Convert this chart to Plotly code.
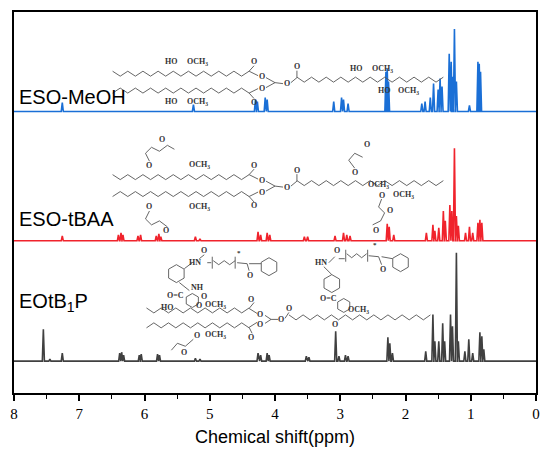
import math
import plotly.graph_objects as go

# ---- data (ppm, peak height in px above each baseline) ----
meoh_ppm = [7.26, 5.25, 4.30, 4.27, 4.15, 4.12, 3.10, 2.98, 2.95, 2.88,
            2.30, 2.28, 2.26, 1.75, 1.70, 1.62, 1.57, 1.50, 1.47, 1.44,
            1.33, 1.30, 1.28, 1.25, 1.22, 1.02, 0.89, 0.87, 0.85]
meoh_h = [9, 7, 12, 10, 14, 12, 10, 14, 12, 8,
          40, 43, 30, 8, 10, 14, 28, 22, 33, 25,
          58, 50, 35, 83, 30, 6, 50, 48, 40]

tbaa_ppm = [7.26, 6.40, 6.36, 6.33, 6.10, 6.06, 5.82, 5.78, 5.75, 5.22, 5.15,
            4.26, 4.22, 4.12, 4.08, 3.55, 3.50, 3.08, 2.95, 2.90, 2.85,
            2.28, 2.25, 2.18, 1.68, 1.58, 1.55, 1.49, 1.42, 1.39,
            1.32, 1.29, 1.25, 1.22, 1.19, 1.08, 1.02, 0.97, 0.89, 0.86, 0.83]
tbaa_h = [5, 6, 8, 6, 5, 6, 5, 7, 4, 4, 2,
          9, 6, 8, 6, 4, 4, 5, 8, 6, 5,
          17, 14, 6, 8, 16, 10, 13, 30, 20,
          36, 30, 93, 25, 15, 8, 14, 8, 18, 21, 18]

eotb_ppm = [7.55, 7.45, 7.26, 6.38, 6.35, 6.32, 6.08, 6.05, 5.80, 5.77, 5.22, 5.15,
            4.26, 4.22, 4.12, 4.09, 3.52, 3.48, 3.07, 3.02, 2.92, 2.88,
            2.27, 2.24, 2.20, 1.69, 1.58, 1.55, 1.49, 1.43, 1.40,
            1.31, 1.28, 1.22, 1.19, 1.09, 1.03, 0.97, 0.86, 0.83, 0.80]
eotb_h = [32, 2, 8, 8, 9, 6, 6, 7, 7, 6, 3, 2,
          8, 6, 8, 6, 5, 4, 30, 5, 6, 5,
          24, 18, 8, 10, 47, 20, 20, 38, 20,
          47, 35, 109, 20, 10, 22, 8, 29, 25, 12]

names = ["ESO-MeOH", "ESO-tBAA", "EOtB<sub>1</sub>P"]
colors = ["#1a6fd6", "#f0232c", "#404040"]
offsets = [283, 153, 32]          # baseline height of each stacked spectrum
label_y = [298, 175, 91]
HALF = 0.016                      # half width of a drawn line (ppm)

# plot-area geometry in page pixels (used only for the structure sketches)
L, R, T, B = 14, 538, 10, 393


def stick_trace(ppm, h, off):
    xs, ys = [8.0], [off]
    for p, v in sorted(zip(ppm, h), key=lambda t: -t[0]):
        xs += [p + HALF, p, p - HALF]
        ys += [off, off + v, off]
    xs.append(0.0)
    ys.append(off)
    return xs, ys


fig = go.Figure()
for ppm, h, off, col in zip([meoh_ppm, tbaa_ppm, eotb_ppm],
                            [meoh_h, tbaa_h, eotb_h], offsets, colors):
    xs, ys = stick_trace(ppm, h, off)
    fig.add_trace(go.Scatter(x=xs, y=ys, mode="lines",
                             line=dict(color=col, width=1.6),
                             hoverinfo="skip", showlegend=False))

for name, ly in zip(names, label_y):
    fig.add_annotation(x=7.95, y=ly, xref="x", yref="y", text=name,
                       showarrow=False, xanchor="left", yanchor="middle",
                       font=dict(family="Liberation Sans, Arial", size=20,
                                 color="#000"))

# ---------------- schematic chemical structures (decoration) ----------------
paths = []
texts = []


def P(x, y):
    return (x - L) / (R - L), (B - y) / (B - T)


def poly(pts, close=False):
    s = ""
    for i, (x, y) in enumerate(pts):
        px, py = P(x, y)
        s += ("M" if i == 0 else "L") + f"{px:.4f},{py:.4f}"
    if close:
        s += "Z"
    paths.append(s)


def zig(x0, x1, y, n, amp=2.5, up=True):
    pts = []
    for i in range(n + 1):
        sgn = -1 if (i % 2 == 0) == up else 1
        pts.append((x0 + (x1 - x0) * i / n, y + sgn * amp))
    poly(pts)


def ring(cx, cy, r=8):
    poly([(cx + r * math.cos(math.radians(30 + 60 * k)),
           cy + r * math.sin(math.radians(30 + 60 * k))) for k in range(6)],
         close=True)


def t(x, y, s, size=8):
    texts.append((x, y, s, size))


def triglyceride(dy):
    # two side chains on the left, glycerol, one chain on the right
    yu, yl, ym = 72 + dy, 89 + dy, 78 + dy
    zig(113, 250, yu, 18)
    zig(113, 250, yl, 18, up=False)
    poly([(250, yu - 2.5), (255, yu - 8)]); t(255, yu - 12, "O")
    poly([(250, yl + 2.5), (255, yl + 8)]); t(255, yl + 12, "O")
    poly([(250, yu - 2.5), (259, yu + 2)]); t(263, yu + 3, "O")
    poly([(250, yl + 2.5), (259, yl - 2)]); t(263, yl - 2, "O")
    poly([(267, yu + 4), (276, ym + 3), (267, yl - 3)])
    poly([(276, ym + 3), (284, ym + 4)]); t(288, ym + 4, "O")
    poly([(292, ym + 3), (298, ym - 2)])
    poly([(298, ym - 2), (298, ym - 9)]); t(298, ym - 13, "O")
    zig(298, 445, ym, 20)


# structure 1 (ESO-MeOH)
triglyceride(0)
t(172, 60, "HO"); t(198, 60, "OCH<sub>3</sub>")
t(172, 100, "HO"); t(198, 100, "OCH<sub>3</sub>")
t(357, 67, "HO"); t(384, 67, "OCH<sub>3</sub>")
t(385, 89, "HO"); t(410, 89, "OCH<sub>3</sub>")

# structure 2 (ESO-tBAA)
triglyceride(104)
t(150, 164, "O"); t(200, 164, "OCH<sub>3</sub>")
poly([(150, 160), (146, 152), (152, 146), (160, 150)]); t(163, 138, "O")
poly([(160, 150), (168, 144), (175, 148)])
t(150, 206, "O"); t(200, 206, "OCH<sub>3</sub>")
poly([(150, 210), (146, 218), (152, 224), (160, 220)]); t(167, 230, "O")
poly([(160, 220), (168, 226)])
t(356, 171, "O"); t(380, 184, "OCH<sub>3</sub>")
poly([(356, 167), (350, 159), (356, 152), (364, 156)]); t(368, 143, "O")
t(383, 194, "O"); t(405, 194, "OCH<sub>3</sub>")
poly([(383, 198), (380, 206), (386, 212)]); t(391, 210, "O")
poly([(386, 212), (382, 220), (374, 224)]); t(377, 230, "O")

# structure 3 (EOtB1P)
yo = 316
zig(147, 250, yo - 6, 14)
zig(147, 250, yo + 9, 14, up=False)
poly([(250, yo - 8), (255, yo - 14)]); t(252, yo - 17, "O")
poly([(250, yo - 8), (258, yo - 3)]); t(261, yo - 2, "O")
poly([(250, yo + 11), (258, yo + 6)]); t(261, yo + 8, "O")
poly([(250, yo + 11), (253, yo + 17)]); t(252, yo + 21, "O")
poly([(266, yo - 1), (272, yo + 3), (266, yo + 7)])
poly([(272, yo + 3), (279, yo + 3)]); t(282, yo + 3, "O")
poly([(286, yo + 2), (290, yo - 4)]); t(290, yo - 8, "O")
zig(290, 432, yo + 1, 20)
t(200, yo - 11, "O"); t(216, yo - 11, "OCH<sub>3</sub>")
t(198, yo + 19, "O"); t(216, yo + 19, "OCH<sub>3</sub>")
poly([(194, yo + 23), (186, yo + 30), (178, yo + 27), (172, yo + 34)])
t(185, yo + 36, "O")
# polyurethane fragments
ring(177, 273, 9)
poly([(185, 268), (193, 262)]); t(196, 262, "HN")
poly([(200, 258), (205, 254)]); t(205, 250, "O")
poly([(208, 262), (212, 262)])
zig(214, 236, 262, 4, amp=2)
poly([(213, 256), (213, 268)]); poly([(236, 256), (236, 268)])
t(240, 252, "*", 7)
poly([(238, 262), (248, 263), (250, 270)]); t(251, 275, "O")
poly([(250, 263), (262, 263)])
ring(270, 266, 9)
poly([(180, 282), (190, 290)]); t(198, 287, "NH")
t(176, 295, "O=C"); ring(193, 300, 7)
t(168, 307, "HO"); t(205, 296, "O")
# right fragment
ring(333, 283, 9)
poly([(333, 274), (325, 266)]); t(322, 262, "HN")
poly([(330, 262), (336, 256)]); t(338, 250, "O")
poly([(340, 258), (346, 258)])
zig(348, 368, 255, 4, amp=2)
poly([(347, 249), (347, 261)]); poly([(369, 249), (369, 261)])
t(376, 244, "*", 7)
poly([(370, 255), (380, 256), (383, 264)]); t(384, 269, "O")
poly([(383, 256), (394, 258)])
ring(402, 262, 9)
t(330, 298, "O=C"); ring(345, 305, 7)
t(360, 310, "OCH<sub>3</sub>"); t(336, 324, "O")

fig.add_shape(type="path", xref="paper", yref="paper", path="".join(paths),
              line=dict(color="#555555", width=0.9), layer="above")
for x, y, s, size in texts:
    px, py = P(x, y)
    fig.add_annotation(x=px, y=py, xref="paper", yref="paper",
                       text="<b>" + s + "</b>",
                       showarrow=False, xanchor="center", yanchor="middle",
                       font=dict(family="Liberation Serif, Times New Roman",
                                 size=size, color="#333333"))

fig.update_layout(
    width=550, height=462,
    margin=dict(l=14, r=12, t=10, b=69),
    paper_bgcolor="white", plot_bgcolor="white",
    xaxis=dict(range=[8, 0], dtick=1, tick0=0, showline=True, mirror=True,
               linecolor="black", linewidth=1.5, ticks="outside",
               ticklen=6, tickwidth=1.5, tickcolor="black",
               minor=dict(dtick=0.5, ticks="outside", ticklen=4,
                          tickwidth=1.2, tickcolor="black"),
               showgrid=False, zeroline=False,
               tickfont=dict(family="Liberation Serif", size=15,
                             color="black"),
               title=dict(text="Chemical shift(ppm)", standoff=10,
                          font=dict(family="Liberation Sans, Arial", size=18,
                                    color="black"))),
    yaxis=dict(range=[0, 383], showline=True, mirror=True, linecolor="black",
               linewidth=1.5, showticklabels=False, ticks="",
               showgrid=False, zeroline=False),
)

fig.write_html("out.html", config={"displayModeBar": False},
               post_script="document.body.style.margin='0';")
